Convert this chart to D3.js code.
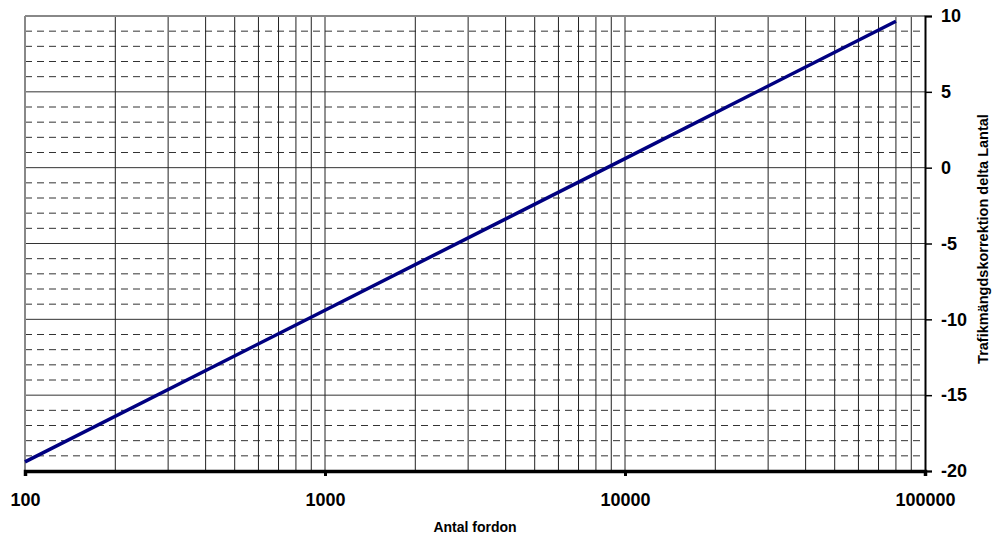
<!DOCTYPE html>
<html>
<head>
<meta charset="utf-8">
<script src="https://cdn.jsdelivr.net/npm/d3@7"></script>
<style>
  body { margin: 0; background: #fff; }
  text { font-family: "Liberation Sans", Arial, sans-serif; font-weight: bold; }
</style>
</head>
<body>
<div id="chart"></div>
<script>
// traffic volume (x) vs correction (y)
const vehicles = [100, 1000, 10000, 80000]
const correction = [-19.4, -9.4, 0.6, 9.65]
const xTicks = [100, 1000, 10000, 100000]
const yTicks = [-20, -15, -10, -5, 0, 5, 10]

var margin = {top: 16, right: 68, bottom: 66, left: 25}
var width = 993 - margin.left - margin.right,
    height = 537 - margin.top - margin.bottom

const svg = d3.select("#chart")
    .append("svg")
    .attr("width", 993)
    .attr("height", 537)
    .append("g")
    .attr("transform", "translate(" + margin.left + "," + margin.top + ")")

const x = d3.scaleLog().domain([100, 100000]).range([0, width])
const y = d3.scaleLinear().domain([-20, 10]).range([height, 0])

// dashed minor horizontal lines (every unit)
let minorY = d3.range(-19, 10).filter(v => v % 5 != 0)
svg.selectAll(".minorY")
    .data(minorY)
    .enter()
    .append("line")
    .attr("x1", 0).attr("x2", width)
    .attr("y1", d => y(d)).attr("y2", d => y(d))
    .attr("stroke", "#333")
    .attr("stroke-width", 1)
    .attr("stroke-dasharray", "7,5")

// solid major horizontal lines
svg.selectAll(".majorY")
    .data(yTicks.filter(v => v > -20 && v < 10))
    .enter()
    .append("line")
    .attr("x1", 0).attr("x2", width)
    .attr("y1", d => y(d)).attr("y2", d => y(d))
    .attr("stroke", "#333")
    .attr("stroke-width", 1)

// vertical grid at 1..9 of every decade
let gridX = []
for (let dec of [100, 1000, 10000]) {
    for (let k = 1; k <= 9; k++) gridX.push(dec * k)
}
gridX = gridX.filter(v => v > 100)
svg.selectAll(".gridX")
    .data(gridX)
    .enter()
    .append("line")
    .attr("x1", d => x(d)).attr("x2", d => x(d))
    .attr("y1", 0).attr("y2", height)
    .attr("stroke", "#222")
    .attr("stroke-width", 1)

// frame top / left
svg.append("line").attr("x1", 0).attr("x2", width).attr("y1", 0).attr("y2", 0)
    .attr("stroke", "#888").attr("stroke-width", 2)
svg.append("line").attr("x1", 0).attr("x2", 0).attr("y1", 0).attr("y2", height)
    .attr("stroke", "#888").attr("stroke-width", 2)

// right axis
const yAxis = d3.axisRight(y).tickValues(yTicks).tickFormat(d => String(d)).tickSize(7).tickPadding(9)
const gy = svg.append("g")
    .attr("transform", "translate(" + width + ",0)")
    .call(yAxis)
gy.select(".domain").attr("stroke", "#000").attr("stroke-width", 2)
gy.selectAll(".tick line").attr("stroke", "#000").attr("stroke-width", 1.5)
gy.selectAll(".tick text").style("font-size", "18px").attr("fill", "#000")

// bottom axis
const xAxis = d3.axisBottom(x).tickValues(xTicks).tickFormat(d => String(d)).tickSize(5).tickPadding(17)
const gx = svg.append("g")
    .attr("transform", "translate(0," + height + ")")
    .call(xAxis)
gx.select(".domain").attr("stroke", "#000").attr("stroke-width", 3.5)
gx.selectAll(".tick line").attr("stroke", "#000").attr("stroke-width", 3)
gx.selectAll(".tick text").style("font-size", "18px").attr("fill", "#000")

// the line
const lineData = vehicles.map((v, i) => ({v: v, c: correction[i]}))
svg.append("path")
    .datum(lineData)
    .attr("d", d3.line().x(d => x(d.v)).y(d => y(d.c)))
    .attr("fill", "none")
    .attr("stroke", "#000080")
    .attr("stroke-width", 3.5)

// axis titles
svg.append("text")
    .attr("x", 450)
    .attr("y", height + 61)
    .attr("text-anchor", "middle")
    .style("font-size", "14px")
    .text("Antal fordon")

svg.append("text")
    .attr("transform", "translate(" + (width + 63) + "," + 223 + ") rotate(-90)")
    .attr("text-anchor", "middle")
    .style("font-size", "14.5px")
    .text("Trafikmängdskorrektion delta Lantal")
</script>
</body>
</html>
